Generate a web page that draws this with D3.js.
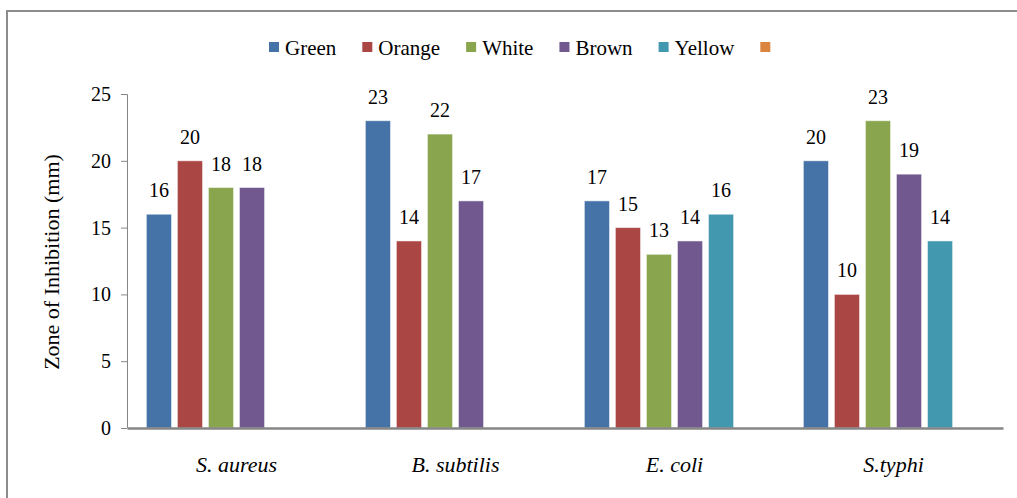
<!DOCTYPE html>
<html>
<head>
<meta charset="utf-8">
<script src="https://cdn.jsdelivr.net/npm/d3@7"></script>
<style>
  body { margin: 0; background: #fff; }
</style>
</head>
<body>
<div id="chart"></div>
<script>
// data
var categories = ["S. aureus", "B. subtilis", "E. coli", "S.typhi"];
var seriesNames = ["Green", "Orange", "White", "Brown", "Yellow", ""];
var seriesColors = ["#4572A7", "#AA4643", "#89A54E", "#71588F", "#4198AF", "#DB843D"];
var green = [16, 23, 17, 20];
var orange = [20, 14, 15, 10];
var white = [18, 22, 13, 23];
var brown = [18, 17, 14, 19];
var yellow = [null, null, 16, 14];
var blank = [null, null, null, null];
var yTicks = [0, 5, 10, 15, 20, 25];

var seriesValues = [green, orange, white, brown, yellow, blank];

var svgWidth = 1017, svgHeight = 498;
var margin = { top: 94, right: 14, bottom: 70, left: 127 };
var width = svgWidth - margin.left - margin.right;
var height = svgHeight - margin.top - margin.bottom;
var serif = "'Liberation Serif'";

var svg = d3.select("#chart").append("svg")
    .attr("width", svgWidth)
    .attr("height", svgHeight);

// outer frame
svg.append("rect")
    .attr("x", 7).attr("y", 11)
    .attr("width", svgWidth + 10).attr("height", svgHeight + 10)
    .attr("fill", "none")
    .attr("stroke", "#8c8c8c")
    .attr("stroke-width", 2);

var chartGroup = svg.append("g")
    .attr("transform", `translate(${margin.left}, ${margin.top})`);

// scales
var x0 = d3.scaleBand()
    .domain(categories)
    .range([0, width])
    .paddingInner(0.15)
    .paddingOuter(0.075);

var x1 = d3.scaleBand()
    .domain(d3.range(seriesNames.length))
    .range([0, x0.bandwidth()])
    .paddingInner(0.19)
    .paddingOuter(0.095);

var y = d3.scaleLinear()
    .domain([0, 25])
    .range([height, 0]);

// y axis
var leftAxis = d3.axisLeft(y).tickValues(yTicks).tickSize(6).tickPadding(10);
var yAxisG = chartGroup.append("g").call(leftAxis);
yAxisG.selectAll("line, path").attr("stroke", "#868686");
yAxisG.select(".domain").attr("d", `M-6,0.5H0.5V${height}`);
yAxisG.selectAll("text").style("font-family", serif).style("font-size", "20px");

// bars
var groups = chartGroup.selectAll(".cat")
    .data(categories)
    .enter().append("g")
    .attr("transform", d => `translate(${x0(d)},0)`);

groups.each(function(cat, ci) {
    var g = d3.select(this);
    var rows = seriesValues.map((vals, si) => ({ si: si, v: vals[ci] }))
        .filter(d => d.v != null);

    g.selectAll("rect")
        .data(rows)
        .enter().append("rect")
        .attr("x", d => x1(d.si))
        .attr("y", d => y(d.v))
        .attr("width", x1.bandwidth())
        .attr("height", d => y(0) - y(d.v))
        .attr("fill", d => seriesColors[d.si])
        .attr("stroke", "#ffffff")
        .attr("stroke-opacity", 0.5)
        .attr("stroke-width", 1);

    //value labels over each bar
    g.selectAll("text.val")
        .data(rows)
        .enter().append("text")
        .attr("class", "val")
        .attr("x", d => x1(d.si) + x1.bandwidth() / 2)
        .attr("y", d => y(d.v) - 17)
        .attr("text-anchor", "middle")
        .style("font-family", serif)
        .style("font-size", "20px")
        .text(d => d.v);
});

// x axis (drawn after bars so the line sits on top)
var bottomAxis = d3.axisBottom(x0).tickSize(0).tickPadding(28);
var xAxisG = chartGroup.append("g")
    .attr("transform", `translate(0, ${height})`)
    .call(bottomAxis);
xAxisG.select(".domain").attr("stroke", "#868686").attr("stroke-width", 2.5);
xAxisG.selectAll("text")
    .style("font-family", serif)
    .style("font-style", "italic")
    .style("font-size", "22px");

// y axis title
svg.append("text")
    .attr("transform", "translate(59, 262) rotate(-90)")
    .attr("text-anchor", "middle")
    .style("font-family", serif)
    .style("font-size", "22px")
    .text("Zone of Inhibition (mm)");

// legend
var legend = svg.append("g").attr("transform", "translate(269, 42)");
var lx = 0;
seriesNames.forEach(function(name, i) {
    var item = legend.append("g").attr("transform", `translate(${lx},0)`);
    item.append("rect")
        .attr("width", 10).attr("height", 10)
        .attr("fill", seriesColors[i]);
    var t = item.append("text")
        .attr("x", 16).attr("y", 12.5)
        .style("font-family", serif)
        .style("font-size", "21px")
        .text(name);
    lx += 16 + t.node().getComputedTextLength() + 26;
});

svg.selectAll("g").attr("font-family", null);
svg.selectAll("text").style("fill", "#000");
</script>
</body>
</html>
